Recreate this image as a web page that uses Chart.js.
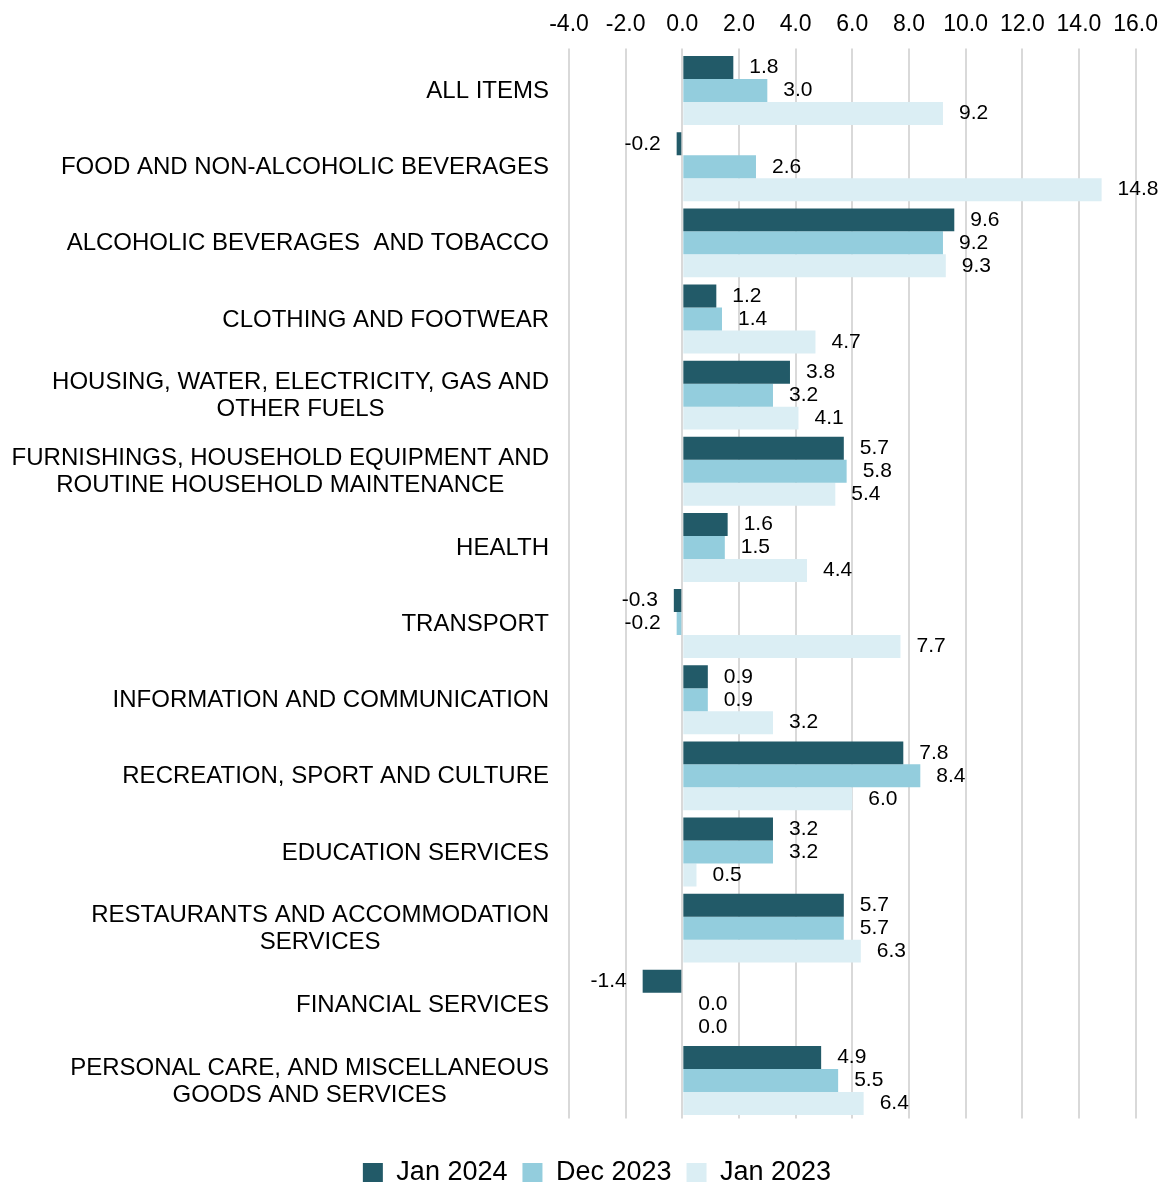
<!DOCTYPE html>
<html>
<head>
<meta charset="utf-8">
<script src="https://cdn.jsdelivr.net/npm/chart.js@4.4.1/dist/chart.umd.min.js"></script>
<style>
  html, body { margin: 0; padding: 0; background: #fff; }
  #wrap { width: 1168px; height: 1193px; position: relative; }
</style>
</head>
<body>
<div id="wrap"><canvas id="cpiChart"></canvas></div>
<script>
// categories (multi-line ones split into lines)
const categories = [
  ['ALL ITEMS'],
  ['FOOD AND NON-ALCOHOLIC BEVERAGES'],
  ['ALCOHOLIC BEVERAGES  AND TOBACCO'],
  ['CLOTHING AND FOOTWEAR'],
  ['HOUSING, WATER, ELECTRICITY, GAS AND', 'OTHER FUELS'],
  ['FURNISHINGS, HOUSEHOLD EQUIPMENT AND', 'ROUTINE HOUSEHOLD MAINTENANCE'],
  ['HEALTH'],
  ['TRANSPORT'],
  ['INFORMATION AND COMMUNICATION'],
  ['RECREATION, SPORT AND CULTURE'],
  ['EDUCATION SERVICES'],
  ['RESTAURANTS AND ACCOMMODATION', 'SERVICES'],
  ['FINANCIAL SERVICES'],
  ['PERSONAL CARE, AND MISCELLANEOUS', 'GOODS AND SERVICES']
];

const jan2024 = [1.8, -0.2, 9.6, 1.2, 3.8, 5.7, 1.6, -0.3, 0.9, 7.8, 3.2, 5.7, -1.4, 4.9];
const dec2023 = [3.0, 2.6, 9.2, 1.4, 3.2, 5.8, 1.5, -0.2, 0.9, 8.4, 3.2, 5.7, 0.0, 5.5];
const jan2023 = [9.2, 14.8, 9.3, 4.7, 4.1, 5.4, 4.4, 7.7, 3.2, 6.0, 0.5, 6.3, 0.0, 6.4];

const seriesNames = ['Jan 2024', 'Dec 2023', 'Jan 2023'];
const seriesColors = ['#225a68', '#93cddd', '#dbeef4'];

// x axis ticks: -4.0 .. 16.0 step 2
const xMin = -4, xMax = 16, xStep = 2;

const FONT = '"Liberation Sans", Arial, sans-serif';
Chart.defaults.font.family = FONT;
Chart.defaults.color = '#000';

// value labels next to bar ends
const valueLabels = {
  id: 'valueLabels',
  afterDatasetsDraw(chart) {
    const ctx = chart.ctx;
    ctx.save();
    ctx.font = '21px ' + FONT;
    ctx.fillStyle = '#000';
    ctx.textBaseline = 'middle';
    chart.data.datasets.forEach((ds, di) => {
      chart.getDatasetMeta(di).data.forEach((bar, i) => {
        const v = ds.data[i];
        if (v < 0) {
          ctx.textAlign = 'right';
          ctx.fillText(v.toFixed(1), bar.x - 16, bar.y);
        } else {
          ctx.textAlign = 'left';
          ctx.fillText(v.toFixed(1), bar.x + 16, bar.y);
        }
      });
    });
    ctx.restore();
  }
};

// category labels: block right-aligned, lines centred on each other
const categoryLabels = {
  id: 'categoryLabels',
  afterDraw(chart) {
    const ctx = chart.ctx;
    const yScale = chart.scales.y;
    ctx.save();
    ctx.font = '24px ' + FONT;
    ctx.fillStyle = '#000';
    ctx.textBaseline = 'middle';
    ctx.textAlign = 'center';
    const right = 549, lh = 27;
    categories.forEach((lines, i) => {
      const cy = yScale.getPixelForValue(i) + 1;
      const w = Math.max(...lines.map(l => ctx.measureText(l).width));
      const cx = right - w / 2;
      lines.forEach((l, j) => {
        ctx.fillText(l, cx, cy + (j - (lines.length - 1) / 2) * lh);
      });
    });
    ctx.restore();
  }
};

new Chart(document.getElementById('cpiChart'), {
  type: 'bar',
  data: {
    labels: categories,
    datasets: [
      { label: seriesNames[0], data: jan2024, backgroundColor: seriesColors[0] },
      { label: seriesNames[1], data: dec2023, backgroundColor: seriesColors[1] },
      { label: seriesNames[2], data: jan2023, backgroundColor: seriesColors[2] }
    ]
  },
  options: {
    indexAxis: 'y',
    responsive: true,
    maintainAspectRatio: false,
    animation: false,
    datasets: {
      bar: { categoryPercentage: 0.905, barPercentage: 1.0, borderWidth: 0 }
    },
    // left padding only nudges the centred legend; y axis width keeps plot at x=569
    layout: { padding: { left: 52, right: 26, top: 0, bottom: -3 } },
    scales: {
      x: {
        position: 'top',
        min: xMin,
        max: xMax,
        ticks: {
          stepSize: xStep,
          padding: 10,
          font: { size: 23 },
          color: '#000',
          callback: v => Number(v).toFixed(1)
        },
        grid: { color: '#d9d9d9', lineWidth: 2, tickLength: 4, tickColor: '#d9d9d9' },
        border: { display: false },
        afterFit(scale) { scale.height = 52.5; }
      },
      y: {
        ticks: { display: false },
        grid: { display: false },
        border: { display: false },
        afterFit(scale) { scale.width = 517; }
      }
    },
    plugins: {
      legend: {
        position: 'bottom',
        title: { display: true, text: ' ', padding: 7.5, font: { size: 10.5, lineHeight: 1 } },
        labels: {
          boxWidth: 20,
          boxHeight: 19,
          padding: 15,
          color: '#000',
          font: { size: 27 }
        }
      },
      tooltip: { enabled: false }
    }
  },
  plugins: [valueLabels, categoryLabels]
});
</script>
</body>
</html>
